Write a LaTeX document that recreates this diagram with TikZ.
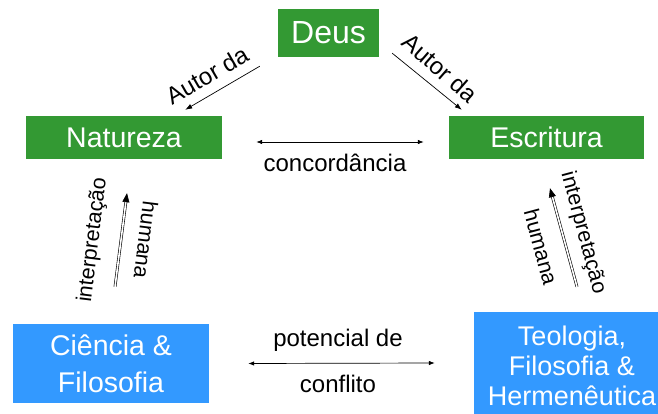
\documentclass[tikz,border=0pt]{standalone}
\usepackage{fontspec}
\setmainfont{Liberation Sans}
\usetikzlibrary{calc,arrows.meta}
\definecolor{boxgreen}{RGB}{51,153,51}
\definecolor{boxblue}{RGB}{51,153,255}

\begin{document}
\begin{tikzpicture}[
    x = 1pt, y = -1pt,
    greenbox/.style = {fill = boxgreen, text = white, inner sep = 0pt,
        font = \fontsize{28.5}{33}\selectfont},
    bluebox/.style = {fill = boxblue, text = white, inner sep = 0pt, align = center,
        minimum width = 196pt},
    label/.style = {font = \fontsize{24}{28}\selectfont, inner sep = 0pt},
    interp/.style = {font = \fontsize{21.5}{25}\selectfont, inner sep = 0pt},
    autor/.style = {line width = 0.7pt, -{Latex[length=7pt,width=5pt]}},
    both/.style = {line width = 0.7pt, {Latex[length=6pt,width=4.5pt]}-{Latex[length=6pt,width=4.5pt]}},
    human/.style = {line width = 0.6pt, double, double distance = 1.6pt,
        -{Triangle[length=9pt,width=7pt]}}]

\useasboundingbox (0,0) rectangle (658,414);

% boxes
\path (328.5,33) node[greenbox, minimum width = 101pt, minimum height = 48pt,
          font = \fontsize{32}{36}\selectfont] (deus) {Deus}
      (124,137.5) node[greenbox, minimum width = 196pt, minimum height = 43pt] (natureza) {Natureza}
      (546.5,137.5) node[greenbox, minimum width = 195pt, minimum height = 43pt] (escritura) {Escritura}
      (111,363.5) node[bluebox, minimum height = 79pt,
          font = \fontsize{28.5}{37}\selectfont] (ciencia) {Ciência \&\\Filosofia}
      (572,366) node[bluebox, minimum height = 108pt,
          font = \fontsize{27}{30}\selectfont] (teologia) {Teologia,\\Filosofia \&\\Hermenêutica};

% connectors
\draw[autor] ($(deus.south west)+(-18,9)$) -- ($(natureza.north east)+(-37,-6)$);
\draw[autor] ($(deus.south east)+(13,-4)$) -- ($(escritura.north west)+(13,-6)$);
\draw[both] ($(natureza.east)+(34,4.5)$) -- ($(escritura.west)+(-25,4.5)$);
\draw[both] ($(ciencia.east)+(39,0)$) -- ($(teologia.west)+(-39,-3)$);
\draw[human] ($(ciencia.north)+(4,-37)$) -- ($(natureza.south)+(3,34)$);
\draw[human] ($(teologia.north)+(5,-25)$) -- ($(escritura.south)+(3.5,29)$);

% labels
\path (207,75) node[label, rotate = 30] (autorN) {Autor da}
      (440,68) node[label, rotate = -41] (autorE) {Autor da}
      (335,163) node[label] (conc) {concordância}
      (338,340) node[label] (pot) {potencial de}
      (338,384) node[label] (confl) {conflito}
      (93,240) node[interp, rotate = 83] (interpN) {interpretação}
      (146,240) node[interp, rotate = -97] (humN) {humana}
      (583,233) node[interp, rotate = -75] (interpE) {interpretação}
      (541,247) node[interp, rotate = -75] (humE) {humana};
\end{tikzpicture}
\end{document}
